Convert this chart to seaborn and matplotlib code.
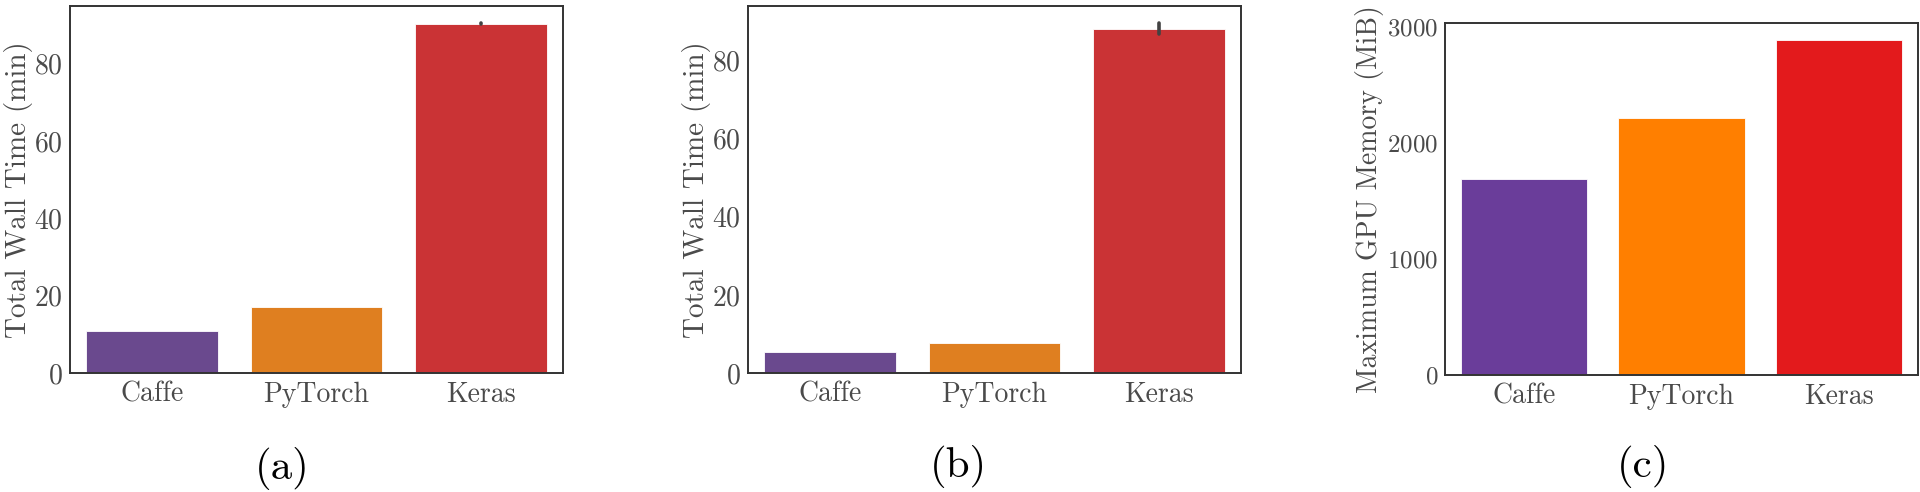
import matplotlib
matplotlib.use("Agg")
import matplotlib.pyplot as plt
import seaborn as sns
import pandas as pd

# ---- data ----
frameworks = ["Caffe", "PyTorch", "Keras"]
colors = ["#6a3d9a", "#ff7f00", "#e31a1c"]

# (a) total wall time (min), individual runs
caffe_a = [10.9]
pytorch_a = [17.1]
keras_a = [90.2, 90.3, 90.4]

# (b) total wall time (min), individual runs
caffe_b = [5.35, 5.4, 5.45]
pytorch_b = [7.7]
keras_b = [86.8, 88.0, 89.5]

# (c) maximum GPU memory (MiB)
memory_c = [1690, 2215, 2888]

ylabel_time = "Total Wall Time (min)"
ylabel_mem = "Maximum GPU Memory (MiB)"
captions = ["(a)", "(b)", "(c)"]


def long_form(groups, col):
    rows = []
    for name, vals in zip(frameworks, groups):
        for v in vals:
            rows.append({"framework": name, col: v})
    return pd.DataFrame(rows)


df_a = long_form([caffe_a, pytorch_a, keras_a], "minutes")
df_b = long_form([caffe_b, pytorch_b, keras_b], "minutes")
df_c = pd.DataFrame({"framework": frameworks, "memory": memory_c})

# ---- style ----
sns.set_style("white")
plt.rcParams["font.family"] = ["cmr10", "DejaVu Sans"]
plt.rcParams["axes.formatter.use_mathtext"] = True
plt.rcParams["mathtext.fontset"] = "cm"
plt.rcParams["axes.edgecolor"] = "#333333"
plt.rcParams["axes.linewidth"] = 1.4

text_grey = "#4a4a4a"

fig = plt.figure(figsize=(19.2, 4.92), dpi=100)
W, H = 1920.0, 492.0


def box(x0, y0, x1, y1):
    return [x0 / W, 1 - y1 / H, (x1 - x0) / W, (y1 - y0) / H]


ax_a = fig.add_axes(box(70, 6, 563, 373))
ax_b = fig.add_axes(box(748, 6, 1241, 373))
ax_c = fig.add_axes(box(1445, 23, 1918, 375))

err_kws = {"color": ".26", "linewidth": 2.6}

sns.barplot(data=df_a, x="framework", y="minutes", hue="framework",
            order=frameworks, hue_order=frameworks, palette=colors,
            estimator="mean", errorbar=("pi", 100), saturation=0.75,
            edgecolor="white", linewidth=0.6, err_kws=err_kws,
            legend=False, ax=ax_a)
sns.barplot(data=df_b, x="framework", y="minutes", hue="framework",
            order=frameworks, hue_order=frameworks, palette=colors,
            estimator="mean", errorbar=("pi", 100), saturation=0.75,
            edgecolor="white", linewidth=0.6, err_kws=err_kws,
            legend=False, ax=ax_b)
sns.barplot(data=df_c, x="framework", y="memory", hue="framework",
            order=frameworks, hue_order=frameworks, palette=colors,
            errorbar=None, saturation=1.0,
            edgecolor="white", linewidth=0.6,
            legend=False, ax=ax_c)

for ax, lab, lx, lfs, yfs in [(ax_a, ylabel_time, -0.075, 21, 20),
                              (ax_b, ylabel_time, -0.075, 21, 20),
                              (ax_c, ylabel_mem, -0.128, 20, 18)]:
    ax.set_xlabel("")
    ax.set_ylabel(lab, fontsize=lfs, color=text_grey)
    ax.yaxis.set_label_coords(lx, 0.5)
    ax.tick_params(axis="both", length=0, colors=text_grey)
    ax.tick_params(axis="x", pad=6, labelsize=20)
    ax.tick_params(axis="y", pad=5, labelsize=yfs)
    for s in ax.spines.values():
        s.set_visible(True)
        s.set_color("#333333")
        s.set_linewidth(1.4)

ax_c.set_yticks([0, 1000, 2000, 3000])

for (cx, cy), cap in zip([(282, 469), (958, 467), (1643, 467)], captions):
    fig.text(cx / W, 1 - cy / H, cap, ha="center", va="center",
             fontsize=31, color="black")

fig.savefig("out.png", dpi=100)
